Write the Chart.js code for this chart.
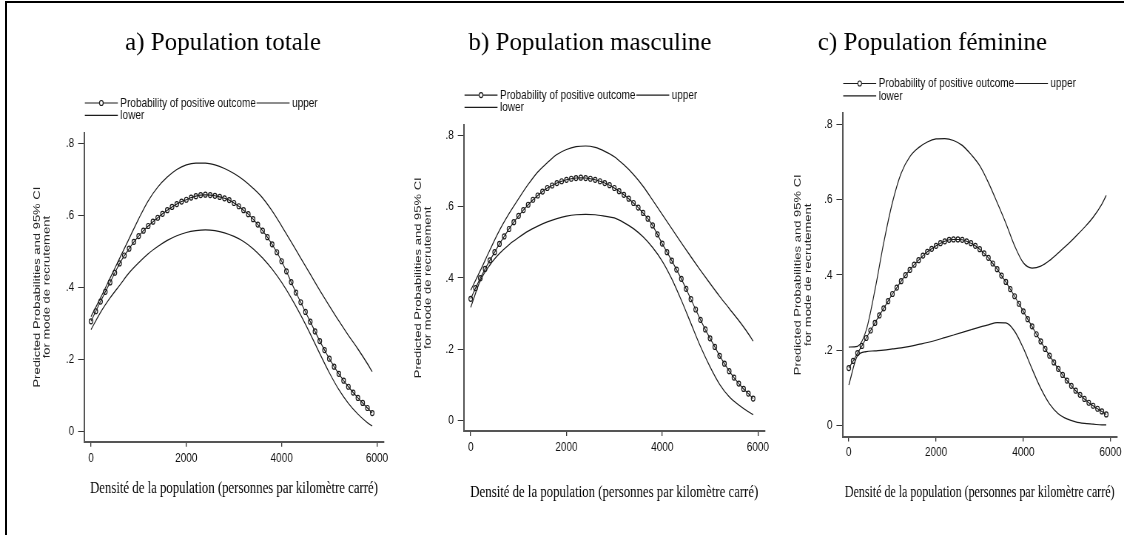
<!DOCTYPE html>
<html lang="fr">
<head>
<meta charset="UTF-8">
<title>Probabilités prédites selon la densité de la population</title>
<script src="https://cdn.jsdelivr.net/npm/chart.js"></script>
<style>
  html, body { margin: 0; padding: 0; background: #fff; }
  #fig { position: relative; width: 1124px; height: 535px; overflow: hidden; background: #fff; }
  #frame { position: absolute; left: 5px; top: 1px; width: 1140px; height: 560px; border-left: 2px solid #000; border-top: 2px solid #000; }
  canvas { position: absolute; left: 0; top: 0; }
</style>
</head>
<body>
<div id="fig">
  <div id="frame"></div>
  <canvas id="chartA" width="1519" height="535" style="width:1124px;height:535px"></canvas>
  <canvas id="chartB" width="1519" height="535" style="width:1124px;height:535px"></canvas>
  <canvas id="chartC" width="1519" height="535" style="width:1124px;height:535px"></canvas>
</div>

<script>
  // densité (personnes / km²) : grille des marges et grille des IC
  const DENSITY = [0, 100, 200, 300, 400, 500, 600, 700, 800, 900,
    1000, 1100, 1200, 1300, 1400, 1500, 1600, 1700, 1800, 1900,
    2000, 2100, 2200, 2300, 2400, 2500, 2600, 2700, 2800, 2900,
    3000, 3100, 3200, 3300, 3400, 3500, 3600, 3700, 3800, 3900,
    4000, 4100, 4200, 4300, 4400, 4500, 4600, 4700, 4800, 4900,
    5000, 5100, 5200, 5300, 5400, 5500, 5600, 5700, 5800, 5900];
  const DENSITY_CI = [0, 200, 400, 600, 800, 1000, 1200, 1400, 1600, 1800,
    2000, 2200, 2400, 2600, 2800, 3000, 3200, 3400, 3600, 3800,
    4000, 4200, 4400, 4600, 4800, 5000, 5200, 5400, 5600, 5800, 5900];

  // a) population totale
  const PROB_A = [0.305, 0.333, 0.360, 0.387, 0.413, 0.440, 0.466, 0.488, 0.507, 0.526,
    0.542, 0.557, 0.570, 0.582, 0.593, 0.604, 0.614, 0.623, 0.631, 0.638,
    0.643, 0.649, 0.653, 0.656, 0.657, 0.656, 0.654, 0.651, 0.647, 0.642,
    0.634, 0.625, 0.614, 0.603, 0.589, 0.574, 0.557, 0.539, 0.519, 0.497,
    0.472, 0.444, 0.414, 0.385, 0.358, 0.331, 0.304, 0.277, 0.250, 0.225,
    0.201, 0.179, 0.159, 0.140, 0.123, 0.107, 0.092, 0.078, 0.064, 0.050];
  const UPPER_A = [0.318, 0.370, 0.425, 0.480, 0.535, 0.590, 0.640, 0.678, 0.706, 0.727,
    0.740, 0.745, 0.745, 0.740, 0.730, 0.716, 0.698, 0.675, 0.648, 0.612,
    0.570, 0.526, 0.481, 0.436, 0.391, 0.348, 0.306, 0.266, 0.228, 0.187, 0.165];
  const LOWER_A = [0.282, 0.330, 0.370, 0.405, 0.440, 0.468, 0.493, 0.513, 0.530, 0.543,
    0.552, 0.557, 0.559, 0.557, 0.551, 0.541, 0.527, 0.507, 0.481, 0.450,
    0.413, 0.370, 0.322, 0.270, 0.215, 0.162, 0.115, 0.077, 0.047, 0.023, 0.014];

  // b) population masculine
  const PROB_B = [0.341, 0.371, 0.399, 0.425, 0.449, 0.472, 0.495, 0.516, 0.537, 0.556,
    0.574, 0.590, 0.605, 0.619, 0.631, 0.642, 0.652, 0.659, 0.666, 0.671,
    0.675, 0.678, 0.680, 0.681, 0.680, 0.678, 0.675, 0.671, 0.666, 0.660,
    0.652, 0.643, 0.633, 0.622, 0.610, 0.597, 0.582, 0.566, 0.547, 0.522,
    0.496, 0.472, 0.448, 0.423, 0.397, 0.369, 0.340, 0.311, 0.282, 0.255,
    0.230, 0.206, 0.181, 0.159, 0.138, 0.120, 0.103, 0.088, 0.075, 0.061];
  const UPPER_B = [0.365, 0.420, 0.478, 0.533, 0.580, 0.622, 0.662, 0.697, 0.723, 0.746,
    0.760, 0.768, 0.770, 0.766, 0.755, 0.740, 0.717, 0.690, 0.657, 0.618,
    0.578, 0.538, 0.498, 0.459, 0.421, 0.384, 0.348, 0.314, 0.280, 0.243, 0.222];
  const LOWER_B = [0.317, 0.392, 0.436, 0.468, 0.493, 0.513, 0.531, 0.545, 0.557, 0.566,
    0.573, 0.577, 0.578, 0.577, 0.573, 0.568, 0.555, 0.538, 0.515, 0.485,
    0.447, 0.397, 0.337, 0.272, 0.207, 0.150, 0.101, 0.066, 0.043, 0.024, 0.016];

  // c) population féminine
  const PROB_C = [0.152, 0.171, 0.192, 0.211, 0.232, 0.252, 0.272, 0.292, 0.311, 0.330,
    0.349, 0.366, 0.383, 0.399, 0.413, 0.427, 0.439, 0.451, 0.461, 0.469,
    0.477, 0.484, 0.489, 0.493, 0.494, 0.494, 0.493, 0.489, 0.484, 0.477,
    0.468, 0.457, 0.445, 0.430, 0.415, 0.398, 0.381, 0.362, 0.343, 0.323,
    0.303, 0.282, 0.263, 0.242, 0.223, 0.203, 0.185, 0.167, 0.150, 0.134,
    0.119, 0.105, 0.092, 0.081, 0.070, 0.060, 0.052, 0.044, 0.037, 0.029];
  const UPPER_C = [0.208, 0.210, 0.253, 0.360, 0.485, 0.592, 0.670, 0.714, 0.738, 0.753,
    0.761, 0.762, 0.757, 0.744, 0.720, 0.690, 0.645, 0.592, 0.537, 0.477,
    0.432, 0.418, 0.423, 0.438, 0.458, 0.479, 0.502, 0.526, 0.553, 0.588, 0.611];
  const LOWER_C = [0.107, 0.185, 0.196, 0.198, 0.200, 0.203, 0.206, 0.210, 0.215, 0.220,
    0.226, 0.233, 0.240, 0.247, 0.254, 0.261, 0.267, 0.273, 0.272, 0.250,
    0.205, 0.150, 0.098, 0.057, 0.031, 0.017, 0.009, 0.005, 0.003, 0.001, 0.001];

  const X_TICKS = [0, 2000, 4000, 6000];
  const Y_TICKS = [0, 0.2, 0.4, 0.6, 0.8];
  const Y_LABELS = ['0', '.2', '.4', '.6', '.8'];
  const SERIES = ['Probability of positive outcome', 'upper', 'lower'];
  const X_TITLE = 'Densité de la population (personnes par kilomètre carré)';
  const Y_TITLE = ['Predicted Probabilities and 95% CI', 'for mode de recrutement'];

  // la figure d'origine est comprimée horizontalement : on dessine large puis on resserre en CSS
  const SQ = 0.74;
  const CW = 1519, CH = 535;
  const Y_AXIS_W = 72, X_AXIS_H = 80;
  const NARROW = '"Liberation Sans Narrow", "Arial Narrow", "Liberation Sans", Arial, sans-serif';
  const SANS = '"Liberation Sans", Arial, sans-serif';
  const SERIF = '"Liberation Serif", "Times New Roman", serif';
  const INK = '#1c1c1c';

  // positions en pixels écran
  const PANELS = [
    { id: 'chartA', title: 'a) Population totale', titleX: 223, prob: PROB_A, upper: UPPER_A, lower: LOWER_A,
      left: 84.1, right: 383.9, top: 132.5, bottom: 441.8, xTitleY: 488, xTitleSize: 17.3, yTitleOff: 47 },
    { id: 'chartB', title: 'b) Population masculine', titleX: 590, prob: PROB_B, upper: UPPER_B, lower: LOWER_B,
      left: 463.8, right: 764.9, top: 124.6, bottom: 431, xTitleY: 492.7, xTitleSize: 17.3, yTitleOff: 45.5 },
    { id: 'chartC', title: 'c) Population féminine', titleX: 932.5, prob: PROB_C, upper: UPPER_C, lower: LOWER_C,
      left: 842.5, right: 1123.2, top: 113, bottom: 436.6, xTitleY: 492.7, xTitleSize: 16.2, yTitleOff: 44.2 }
  ];

  // titre du panneau + légende façon Stata (2 lignes)
  const decor = {
    id: 'decor',
    afterDraw(chart, args, o) {
      const { ctx, chartArea: a } = chart;
      ctx.save();
      ctx.fillStyle = '#000';
      ctx.font = '25px ' + SERIF;
      ctx.textAlign = 'center';
      ctx.textBaseline = 'alphabetic';
      ctx.translate(o.titleX / SQ, 50);
      ctx.scale(1 / SQ, 1);
      ctx.fillText(o.title, 0, 0);
      ctx.restore();

      ctx.save();
      ctx.font = '13.5px ' + NARROW;
      ctx.textBaseline = 'middle';
      ctx.strokeStyle = INK;
      ctx.fillStyle = '#111';
      ctx.lineWidth = 1.2;
      const L = 33 / SQ, gap = 2.5 / SQ;
      [[0, 1], [2]].forEach((row, r) => {
        const y = a.top - 29.5 + r * 12.3;
        let x = a.left + 1;
        row.forEach(i => {
          const ds = chart.data.datasets[i];
          ctx.beginPath();
          ctx.moveTo(x, y);
          ctx.lineTo(x + L, y);
          ctx.stroke();
          if (ds.pointRadius > 0) {
            ctx.beginPath();
            ctx.arc(x + L / 2, y, ds.pointRadius, 0, Math.PI * 2);
            ctx.fillStyle = '#fff';
            ctx.fill();
            ctx.stroke();
            ctx.fillStyle = '#111';
          }
          x += L + gap;
          ctx.fillText(ds.label, x, y);
          x += ctx.measureText(ds.label).width + 1;
        });
      });
      ctx.restore();
    }
  };

  function pts(xs, ys) {
    return ys.map((v, i) => ({ x: xs[i], y: v }));
  }

  PANELS.forEach(p => {
    const lh = 13 * 1.04, xlh = p.xTitleSize * 1.2;
    new Chart(document.getElementById(p.id), {
      type: 'line',
      data: {
        datasets: [
          { label: SERIES[0], data: pts(DENSITY, p.prob), borderColor: INK, borderWidth: 1.1,
            pointRadius: 2.5, pointBorderWidth: 1.2, pointBorderColor: INK, pointBackgroundColor: 'rgba(255,255,255,0)', tension: 0 },
          { label: SERIES[1], data: pts(DENSITY_CI, p.upper), borderColor: INK, borderWidth: 1.2,
            pointRadius: 0, cubicInterpolationMode: 'monotone' },
          { label: SERIES[2], data: pts(DENSITY_CI, p.lower), borderColor: INK, borderWidth: 1.2,
            pointRadius: 0, cubicInterpolationMode: 'monotone' }
        ]
      },
      options: {
        responsive: false,
        animation: false,
        events: [],
        layout: { padding: {
          left: p.left / SQ - Y_AXIS_W,
          right: CW - p.right / SQ,
          top: p.top,
          bottom: CH - p.bottom - X_AXIS_H } },
        scales: {
          x: {
            type: 'linear', min: -145, max: 6145,
            afterBuildTicks: s => { s.ticks = X_TICKS.map(v => ({ value: v })); },
            afterFit: s => { s.height = X_AXIS_H; },
            grid: { drawOnChartArea: false, tickLength: 5, color: '#333', lineWidth: 1.3 },
            border: { color: '#555', width: 2 },
            ticks: { font: { family: NARROW, size: 13.5 }, color: '#111', padding: 3, maxRotation: 0, autoSkip: false,
              callback: v => String(v) },
            title: { display: true, text: X_TITLE, color: '#000', font: { family: SERIF, size: p.xTitleSize },
              padding: { top: 0, bottom: p.bottom + X_AXIS_H - p.xTitleY - xlh / 2 } }
          },
          y: {
            min: -0.03, max: 0.83,
            afterBuildTicks: s => { s.ticks = Y_TICKS.map(v => ({ value: v })); },
            afterFit: s => { s.width = Y_AXIS_W; },
            grid: { drawOnChartArea: false, tickLength: 6 / SQ, color: '#333', lineWidth: 1 },
            border: { color: '#555', width: 2 },
            ticks: { font: { family: NARROW, size: 13.5 }, color: '#111', padding: 4 / SQ,
              callback: (v, i) => Y_LABELS[i] },
            title: { display: true, text: Y_TITLE, color: '#222', font: { family: SANS, size: 13, lineHeight: 1.04 },
              padding: { top: Y_AXIS_W - p.yTitleOff / SQ - lh / 2, bottom: 0 } }
          }
        },
        plugins: {
          legend: { display: false },
          tooltip: { enabled: false },
          decor: { title: p.title, titleX: p.titleX }
        }
      },
      plugins: [decor]
    });
  });
</script>
</body>
</html>
